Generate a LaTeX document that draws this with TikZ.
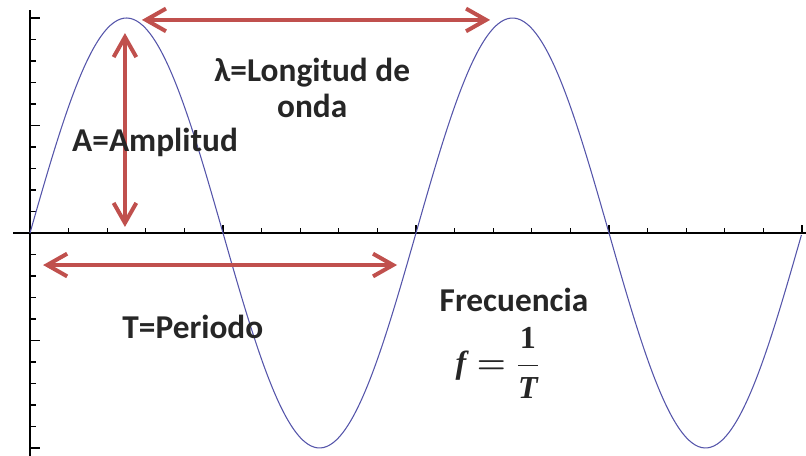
\documentclass[tikz,border=0pt]{standalone}
\usepackage{amsmath,amssymb}
\usepackage{fontspec}
\setmainfont{Carlito}
\newfontfamily\formfont{Liberation Serif}
\usetikzlibrary{arrows.meta}
\definecolor{wavecol}{RGB}{85,85,170}
\definecolor{arrowred}{RGB}{192,80,77}

\tikzset{
  lbl/.style={font=\fontsize{25}{27}\selectfont\bfseries, text=black!85, inner sep=0pt},
  dim/.style={<->, arrowred, line width=3pt},
}
\newcommand{\bfit}[1]{\text{\formfont\bfseries\itshape #1}}

\begin{document}
\begin{tikzpicture}[x=289.5pt,y=161.25pt,>={Straight Barb[length=15pt,width=17pt]}]
  \useasboundingbox (-0.0777,-1.0372) rectangle (2.0104,1.0837);
  % axes and ticks
  \draw[line width=1.2pt] (-0.044,0) -- (2.0104,0);
  \draw[line width=1.2pt] (0,-1.0372) -- (0,1.037);
  \foreach \k in {1,2,3,4,6,7,8,9,11,12,13,14,16,17,18,19}
    \draw[line width=1pt] (\k/10,0) -- ++(0,3.75pt);
  \foreach \k in {5,10,15,20}
    \draw[line width=1pt] (\k/10,0) -- ++(0,6pt);
  \foreach \k in {-9,-8,-7,-6,-4,-3,-2,-1,1,2,3,4,6,7,8,9}
    \draw[line width=1pt] (0,\k/10) -- ++(4.5pt,0);
  \foreach \k in {-10,-5,5,10}
    \draw[line width=1pt] (0,\k/10) -- ++(7.5pt,0);
  % the wave
  \draw[wavecol, line width=0.8pt, domain=0:2, samples=240, smooth] plot (\x,{sin(360*\x)});
  % arrow ends
  \coordinate (ampTop) at (0.246,0.930);
  \coordinate (ampBot) at (0.246,0.028);
  \coordinate (lamL) at (0.290,0.991);
  \coordinate (lamR) at (1.192,0.991);
  \coordinate (perL) at (0.034,-0.149);
  \coordinate (perR) at (0.951,-0.149);
  \draw[dim] (ampTop) -- (ampBot);
  \draw[dim] (lamL) -- (lamR);
  \draw[dim] (perL) -- (perR);
  % labels
  \node[lbl, align=center] (lambda) at (0.731,0.674) {λ=Longitud de\\onda};
  \node[lbl] (amp) at (0.324,0.419) {A=Amplitud};
  \node[lbl] (period) at (0.422,-0.437) {T=Periodo};
  \node[lbl] (freq) at (1.254,-0.312) {Frecuencia};
  \node[text=black!85, font=\fontsize{24}{26}\selectfont\boldmath] (formula) at (1.211,-0.605)
    {$\bfit{f}\;{=}\;\dfrac{\text{\formfont\bfseries 1}}{\bfit{T}}$};
\end{tikzpicture}
\end{document}
